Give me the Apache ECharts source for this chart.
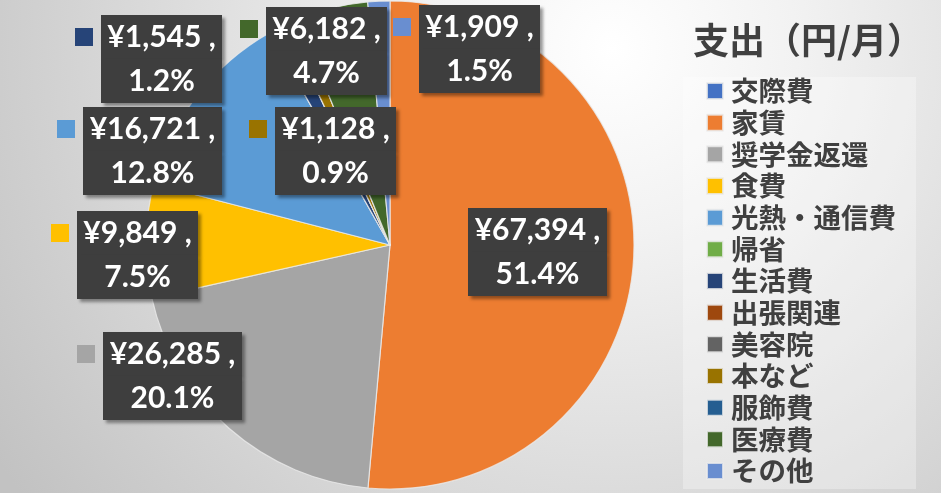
<!DOCTYPE html>
<html>
<head>
<meta charset="utf-8">
<script src="https://cdn.jsdelivr.net/npm/echarts@6/dist/echarts.min.js"></script>
<style>
  html, body { margin: 0; padding: 0; }
  #chart { width: 941px; height: 493px; }
</style>
</head>
<body>
<div id="chart"></div>
<script>
// 支出データ（円/月）
const categories = ["交際費", "家賃", "奨学金返還", "食費", "光熱・通信費", "帰省", "生活費",
  "出張関連", "美容院", "本など", "服飾費", "医療費", "その他"];
const values = [0, 67394, 26285, 9849, 16721, 0, 1545, 0, 0, 1128, 0, 6182, 1909];

const colors = ["#4472C4", "#ED7D31", "#A5A5A5", "#FFC000", "#5B9BD5", "#70AD47", "#264478",
  "#9E480E", "#636363", "#997300", "#255E91", "#43682B", "#698ED0"];

// ラベルの左上位置（キー込み）
const labelPos = {
  1: [442, 208],
  2: [77, 332],
  3: [51, 211],
  4: [57, 107],
  6: [75, 15],
  9: [249, 107],
  11: [240, 7],
  12: [393, 5]
};

const chart = echarts.init(document.getElementById("chart"));

const total = values.reduce((a, b) => a + b, 0);
const fmtYen = v => "¥" + v.toLocaleString("en-US");

const seriesData = categories.map((name, i) => {
  const txt = fmtYen(values[i]) + " ,";
  const w = txt.length >= 9 ? 139 : 121;
  return {
    name: name,
    value: values[i],
    label: {
      show: values[i] > 0,
      rich: {
        k: { width: 18, height: 18, lineHeight: 44, backgroundColor: colors[i] },
        b: { width: w }
      }
    }
  };
});

const option = {
  backgroundColor: {
    type: "radial", x: 0.65, y: 0.1, r: 1.5,
    colorStops: [
      { offset: 0, color: "#ffffff" },
      { offset: 0.25, color: "#f2f2f2" },
      { offset: 1, color: "#c2c2c2" }
    ]
  },
  color: colors,
  title: {
    text: "支出（円/月）",
    left: 688,
    top: 17,
    textStyle: {
      fontFamily: "Noto Sans CJK JP",
      fontSize: 36,
      fontWeight: "bold",
      color: "#404040"
    }
  },
  legend: {
    orient: "vertical",
    left: 683,
    top: 77,
    width: 240,
    padding: [0, 20, 4, 23],
    backgroundColor: "rgba(255,255,255,0.3)",
    itemWidth: 16,
    itemHeight: 16,
    itemGap: 3.67,
    icon: "rect",
    selectedMode: false,
    textStyle: {
      fontFamily: "Noto Sans CJK JP",
      fontSize: 27.5,
      fontWeight: "bold",
      lineHeight: 28,
      color: "#404040",
      padding: [0, 0, 0, 3]
    },
    data: categories
  },
  series: [
    {
      type: "pie",
      center: [390, 245],
      radius: 244,
      startAngle: 90,
      clockwise: true,
      avoidLabelOverlap: false,
      itemStyle: {
        borderColor: "rgba(235,235,235,0.8)",
        borderWidth: 1.2
      },
      label: {
        position: "outside",
        formatter: p => {
          const pct = (p.value / total * 100).toFixed(1) + "%";
          return "{k|}{s|}{b|" + fmtYen(p.value) + " ,}\n{e|}{b|" + pct + "}";
        },
        rich: {
          s: { width: 8, lineHeight: 44 },
          e: { width: 26, lineHeight: 44 },
          b: {
            height: 44,
            lineHeight: 44,
            align: "center",
            backgroundColor: "#3e3e3e",
            color: "#ffffff",
            fontFamily: "Lato",
            fontWeight: "bold",
            fontSize: 30,
            shadowColor: "rgba(0,0,0,0.4)",
            shadowBlur: 3,
            shadowOffsetX: 3,
            shadowOffsetY: 3
          }
        }
      },
      labelLine: { show: false },
      labelLayout: params => {
        const pos = labelPos[params.dataIndex];
        if (!pos) return {};
        return { x: pos[0], y: pos[1], align: "left", verticalAlign: "top" };
      },
      emphasis: { disabled: true },
      data: seriesData
    }
  ]
};

chart.setOption(option);
</script>
</body>
</html>
